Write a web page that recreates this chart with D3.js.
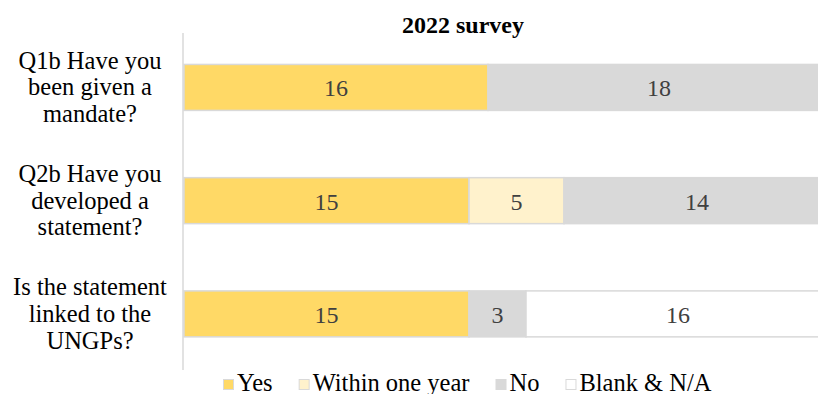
<!DOCTYPE html>
<html lang="en">
<head>
    <meta charset="UTF-8">
    <title>2022 survey</title>
    <script src="https://d3js.org/d3.v7.min.js"></script>
    <style>
        body {margin: 0; background: #fff;}
        text {font-family: "Liberation Serif", "Times New Roman", serif;}
    </style>
</head>
<body>
<script>
    const width = 818;
    const height = 394;

    // questions, wrapped the way the reference shows them
    const questions = ["Q1b", "Q2b", "UNGP"];
    const questionLines = [
        ["Q1b Have you", "been given a", "mandate?"],
        ["Q2b Have you", "developed a", "statement?"],
        ["Is the statement", "linked to the", "UNGPs?"]
    ];

    const seriesNames = ["Yes", "Within one year", "No", "Blank & N/A"];
    const seriesColors = ["#FFD966", "#FFF2CC", "#D9D9D9", "#FFFFFF"];

    const yesValues    = [16, 15, 15];
    const withinValues = [0, 5, 0];
    const noValues     = [18, 14, 3];
    const blankValues  = [0, 0, 16];

    const rows = questions.map((q, i) => ({
        q: q,
        "Yes": yesValues[i],
        "Within one year": withinValues[i],
        "No": noValues[i],
        "Blank & N/A": blankValues[i]
    }));

    const svg = d3.select("body").append("svg")
            .attr("width", width).attr("height", height);

    const x = d3.scaleLinear()
            .domain([0, 34])
            .range([184, 830]);

    const y = d3.scaleBand()
            .domain(questions)
            .range([30.8, 370.5])
            .paddingInner(0.594)
            .paddingOuter(0.297);

    const color = d3.scaleOrdinal().domain(seriesNames).range(seriesColors);

    const stacked = d3.stack().keys(seriesNames)(rows);

    // title
    svg.append("text")
            .attr("x", 463).attr("y", 33)
            .attr("text-anchor", "middle")
            .style("font-weight", "bold")
            .style("font-size", "24px")
            .text("2022 survey");

    // bars
    const layer = svg.selectAll("g.layer")
            .data(stacked)
            .enter().append("g")
            .attr("class", "layer")
            .style("fill", d => color(d.key));

    layer.selectAll("rect")
            .data(d => d.filter(s => s[1] - s[0] > 0))
            .enter().append("rect")
            .attr("x", d => x(d[0]))
            .attr("y", d => y(d.data.q))
            .attr("width", d => x(d[1]) - x(d[0]))
            .attr("height", y.bandwidth())
            .style("stroke", "#D9D9D9")
            .style("stroke-width", 1.5);

    layer.selectAll("text")
            .data(d => d.filter(s => s[1] - s[0] > 0))
            .enter().append("text")
            .attr("x", d => (x(d[0]) + x(d[1])) / 2)
            .attr("y", d => y(d.data.q) + y.bandwidth() / 2 + 9)
            .attr("text-anchor", "middle")
            .style("fill", "#404040")
            .style("font-size", "24px")
            .text(d => d[1] - d[0]);

    // vertical axis line
    const yAxis = svg.append("g")
            .attr("transform", "translate(183,0)")
            .call(d3.axisLeft(y).tickSize(0).tickFormat(""));
    yAxis.select(".domain")
            .attr("d", "M0,33V370")
            .style("stroke", "#D9D9D9")
            .style("stroke-width", 1.5);

    // category labels
    const labels = svg.selectAll("text.qlabel")
            .data(questions)
            .enter().append("text")
            .attr("class", "qlabel")
            .attr("text-anchor", "middle")
            .style("font-size", "24.5px")
            .style("fill", "#000");

    labels.selectAll("tspan")
            .data((d, i) => questionLines[i].map((t, j) => ({t: t, j: j, q: d})))
            .enter().append("tspan")
            .attr("x", 90)
            .attr("y", d => y(d.q) + y.bandwidth() / 2 + 8 + (d.j - 1) * 26.7)
            .text(d => d.t);

    // legend
    const legend = svg.append("g");
    let lx = 0;
    seriesNames.forEach(function(name) {
        const item = legend.append("g").attr("transform", `translate(${lx},0)`);
        item.append("rect")
                .attr("x", 0.5).attr("y", 379.5)
                .attr("width", 10).attr("height", 10)
                .style("fill", color(name))
                .style("stroke", "#D9D9D9")
                .style("stroke-width", 1);
        const t = item.append("text")
                .attr("x", 14).attr("y", 390.5)
                .style("font-size", "24.5px")
                .text(name);
        lx += 14 + t.node().getComputedTextLength() + 26;
    });
    legend.attr("transform", `translate(${223},0)`);

</script>

</body>
</html>
